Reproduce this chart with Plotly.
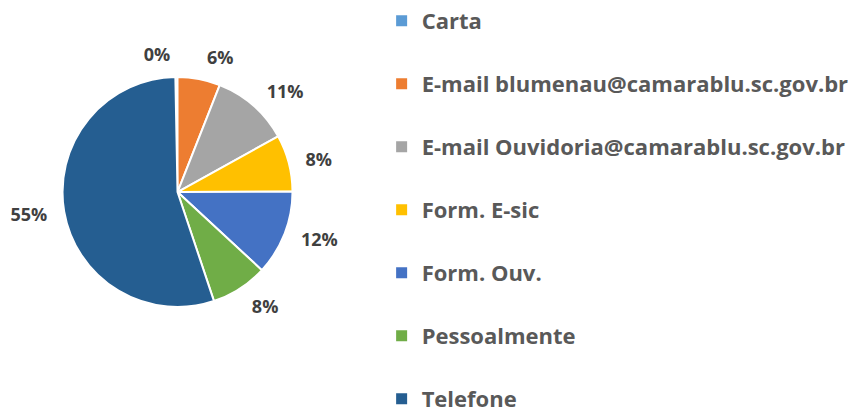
import plotly.graph_objects as go

categories = ["Carta", "E-mail blumenau@camarablu.sc.gov.br", "E-mail Ouvidoria@camarablu.sc.gov.br",
              "Form. E-sic", "Form. Ouv.", "Pessoalmente", "Telefone"]
shares = [0.3, 6, 11, 8, 12, 8, 55]
colors = ["#5B9BD5", "#ED7D31", "#A5A5A5", "#FFC000", "#4472C4", "#70AD47", "#255E91"]

W, H = 848, 405  # page body adds an 8px margin
ROT = -360 * shares[0] / sum(shares)  # first (tiny) slice ends at 12 o'clock

fig = go.Figure()
# the pie itself
fig.add_trace(go.Pie(
    labels=categories, values=shares, sort=False, direction="clockwise", rotation=ROT,
    marker=dict(colors=colors, line=dict(color="white", width=2)),
    textinfo="none", showlegend=False,
    domain=dict(x=[0.0643, 0.3355], y=[0.2617, 0.8296]),
))
# transparent, slightly larger copy that carries the percentage labels
fig.add_trace(go.Pie(
    labels=categories, values=shares, sort=False, direction="clockwise", rotation=ROT,
    marker=dict(colors=["rgba(0,0,0,0)"] * len(categories), line=dict(width=0)),
    textposition="outside", texttemplate="%{percent:.0%}", hoverinfo="skip",
    textfont=dict(family="Open Sans", size=18, color="#404040", weight="bold"),
    showlegend=False, domain=dict(x=[0.0513, 0.3485], y=[0.2346, 0.8568]),
))
legend_layout = {}
for i, (name, col) in enumerate(zip(categories, colors)):
    key = "legend" if i == 0 else f"legend{i + 1}"
    fig.add_trace(go.Scatter(
        x=[None], y=[None], mode="markers", name=name, legend=key,
        marker=dict(symbol="square", size=11, color=col),
    ))
    legend_layout[key] = dict(
        x=0.4406, y=1 - (13 + 63 * i) / H, xanchor="left", yanchor="middle",
        bgcolor="rgba(0,0,0,0)", borderwidth=0,
        font=dict(family="Open Sans", size=22, color="#595959", weight="bold"),
    )
fig.update_layout(
    width=W, height=H, margin=dict(l=0, r=0, t=0, b=0, autoexpand=False),
    paper_bgcolor="white", plot_bgcolor="white",
    xaxis=dict(visible=False), yaxis=dict(visible=False),
    **legend_layout,
)
fig.write_html("out.html")
